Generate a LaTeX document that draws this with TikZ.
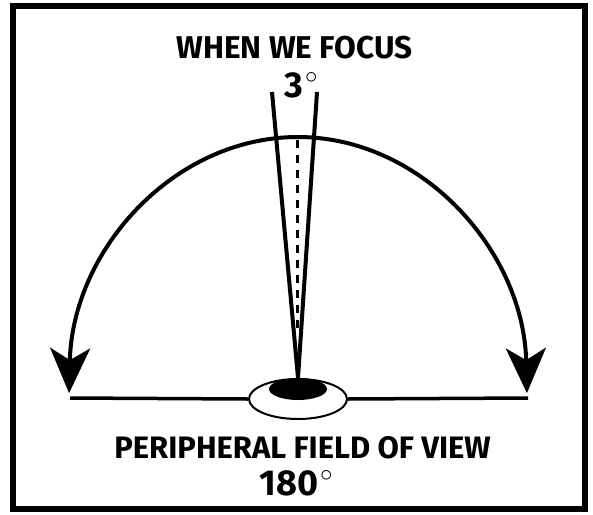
\documentclass[tikz,border=0pt]{standalone}
\usepackage{fontspec}
\setmainfont{Fira Sans}
\usetikzlibrary{arrows.meta,shapes.geometric}

\newcommand{\degmark}{\hspace{2pt}\smash{\raisebox{14pt}{\fontsize{26}{26}\selectfont\mdseries$\circ$}}}

\begin{document}
\begin{tikzpicture}[
    x=1pt, y=1pt,
    caption/.style={font=\bfseries\fontsize{31.5}{31.5}\selectfont, anchor=base, inner sep=0pt},
    angle/.style={font=\bfseries\fontsize{36}{36}\selectfont, anchor=base, inner sep=0pt},
    eyeball/.style={ellipse, draw=black, fill=white, line width=2pt, minimum width=98pt, minimum height=40pt, inner sep=0pt},
    pupil/.style={ellipse, fill=black, minimum width=58pt, minimum height=22pt, inner sep=0pt},
    ray/.style={line width=4pt},
    axis/.style={line width=2.2pt, dash pattern=on 8pt off 7pt},
    arr/.style={{Stealth[length=45pt, width=40pt, inset=12pt]}-{Stealth[length=45pt, width=40pt, inset=12pt]}, line width=4pt}
]
\useasboundingbox (0,0) rectangle (593,-514);
\draw[line width=6pt] (13,-6) rectangle (585,-509);

\coordinate (lend) at (70,-398);
\coordinate (rend) at (528,-398);
\coordinate (ltop) at (272,-92);
\coordinate (rtop) at (317,-92);
\coordinate (dtop) at (297.5,-140);
\coordinate (dbot) at (297.5,-330);
\coordinate (field) at (298,-400);

\node[eyeball] (eye) at (298,-399) {};
\draw[line width=3.5pt] (lend) -- (eye.west);
\draw[line width=3.5pt] (eye.east) -- (rend);
\node[pupil] (iris) at (298,-389) {};

\draw[ray] (ltop) -- (iris.north);
\draw[ray] (rtop) -- (iris.north);
\draw[axis] (dtop) -- (dbot);

\draw[arr] (field) ++(178.5:229 and 263) arc[start angle=178.5, end angle=1.5, x radius=229, y radius=263];

\node[caption] (focus) at (294.5,-58) {WHEN WE FOCUS};
\node[angle] (narrow) at (301,-97) {3\degmark};
\node[caption, font=\bfseries\fontsize{31}{31}\selectfont] (periph) at (302.5,-458) {PERIPHERAL FIELD OF VIEW};
\node[angle] (wide) at (296,-495) {180\degmark};
\end{tikzpicture}
\end{document}
